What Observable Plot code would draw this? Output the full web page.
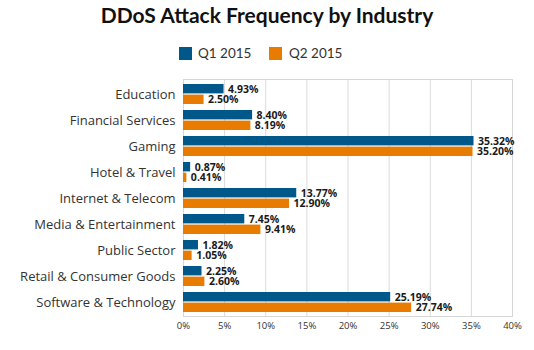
<!DOCTYPE html>
<html>
<head>
<meta charset="utf-8">
<script src="https://cdn.jsdelivr.net/npm/d3@7"></script>
<script src="https://cdn.jsdelivr.net/npm/@observablehq/plot@0.6"></script>
<style>
  html, body { margin: 0; padding: 0; background: #fff; }
  #wrap { position: relative; width: 534px; height: 350px; font-family: Lato, "Open Sans", sans-serif; }
  #title { position: absolute; left: 0; top: 2px; width: 534px; text-align: center; font-weight: 700; font-size: 21px; color: #111; line-height: 26px; }
  #legend { position: absolute; top: 44px; left: 0; width: 534px; height: 18px; }
  .sw { position: absolute; top: 3px; width: 13px; height: 13px; }
  .lt { position: absolute; top: 1px; font-size: 13.5px; color: #333; line-height: 16px; }
  #chart { position: absolute; left: 0; top: 66px; }
</style>
</head>
<body>
<div id="wrap">
  <div id="title">DDoS Attack Frequency by Industry</div>
  <div id="legend"></div>
  <div id="chart"></div>
</div>
<script>
const industries = ["Education", "Financial Services", "Gaming", "Hotel & Travel", "Internet & Telecom", "Media & Entertainment", "Public Sector", "Retail & Consumer Goods", "Software & Technology"];
const q1Values = [4.93, 8.40, 35.32, 0.87, 13.77, 7.45, 1.82, 2.25, 25.19];
const q2Values = [2.50, 8.19, 35.20, 0.41, 12.90, 9.41, 1.05, 2.60, 27.74];
const seriesNames = ["Q1 2015", "Q2 2015"];
const seriesColors = ["#00588a", "#e87c00"];
const xTicks = [0, 5, 10, 15, 20, 25, 30, 35, 40];

const q1 = industries.map((industry, i) => ({industry, series: seriesNames[0], value: q1Values[i]}));
const q2 = industries.map((industry, i) => ({industry, series: seriesNames[1], value: q2Values[i]}));

// legend
const legend = document.getElementById("legend");
const legendPos = [[179, 198], [269, 289]];
seriesNames.forEach((name, i) => {
  const sw = document.createElement("div");
  sw.className = "sw"; sw.style.left = legendPos[i][0] + "px"; sw.style.background = seriesColors[i];
  const t = document.createElement("div");
  t.className = "lt"; t.style.left = legendPos[i][1] + "px"; t.textContent = name;
  legend.appendChild(sw); legend.appendChild(t);
});

const chart = Plot.plot({
  width: 534,
  height: 284,
  marginTop: 13,
  marginBottom: 34,
  marginLeft: 183,
  marginRight: 22,
  style: {fontFamily: "'Open Sans', Lato, sans-serif", background: "#fff"},
  x: {domain: [0, 40], label: null},
  y: {domain: industries, paddingInner: 0.25, paddingOuter: 0.05, label: null},
  marks: [
    Plot.ruleX(xTicks, {stroke: "#dadada", strokeWidth: 1}),
    Plot.frame({stroke: "#d6d6d6"}),
    Plot.axisX(xTicks, {tickSize: 0, tickPadding: 6, fontSize: 9.5, fill: "#333", tickFormat: d => d + "%", label: null}),
    Plot.axisY({tickSize: 0, tickPadding: 8, fontSize: 13, fill: "#333", label: null}),
    Plot.barX(q1, {x: "value", y: "industry", fill: seriesColors[0], insetBottom: 10.6, insetTop: 0}),
    Plot.barX(q2, {x: "value", y: "industry", fill: seriesColors[1], insetTop: 10.6, insetBottom: 0}),
    Plot.text(q1, {x: "value", y: "industry", text: d => d.value.toFixed(2) + "%", dx: 4, dy: -5.2, textAnchor: "start", fontWeight: 700, fontSize: 10.5, fill: "#1a1a1a"}),
    Plot.text(q2, {x: "value", y: "industry", text: d => d.value.toFixed(2) + "%", dx: 4, dy: 5.2, textAnchor: "start", fontWeight: 700, fontSize: 10.5, fill: "#1a1a1a"})
  ]
});
document.getElementById("chart").appendChild(chart);
</script>
</body>
</html>
